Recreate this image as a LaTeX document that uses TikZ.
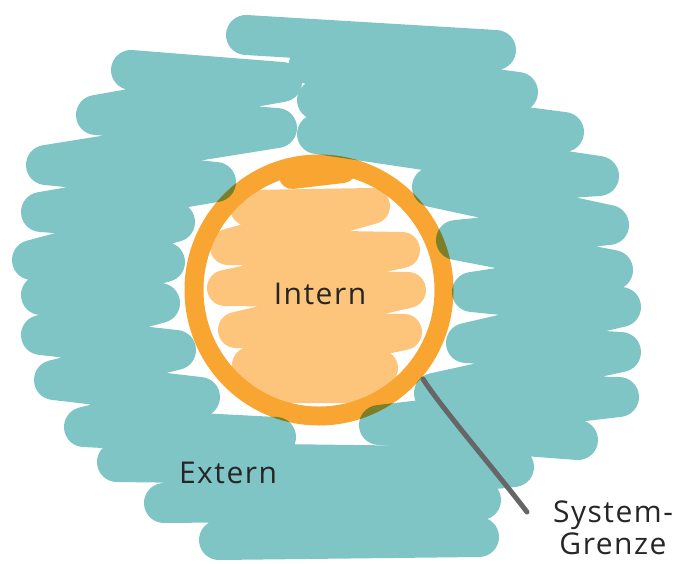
\documentclass[tikz,border=0pt]{standalone}
\usepackage{fontspec}
\setmainfont{Open Sans}
\usepackage{tikz}
\usetikzlibrary{positioning}
\usepackage{xcolor}
\definecolor{externcol}{HTML}{80C5C6}
\definecolor{ringcol}{HTML}{F8A532}
\definecolor{interncol}{HTML}{FDC47B}
\definecolor{grenzcol}{HTML}{666666}
\newcommand{\handfont}{\fontsize{30}{32}\selectfont\addfontfeature{LetterSpace=5}}

\begin{document}
\begin{tikzpicture}[
    x=1pt, y=-1pt,
    every node/.style={font=\handfont, text=black!85, inner sep=0pt},
    % Scribble styles
    externstroke/.style={
      draw=externcol, line width=40pt,
      line cap=round, line join=round
    },
    internstroke/.style={
      draw=interncol, line width=36pt,
      line cap=round, line join=round
    },
    ringstroke/.style={draw=ringcol, line width=19pt, line cap=round},
    % Line style
    grenzline/.style={draw=grenzcol, line width=5pt, line cap=round}
  ]
  \useasboundingbox (0,0) rectangle (683,563);

  % ============ Extern (teal scribble) ============
  \draw[externstroke] (131,70) -- (282,82) -- (96,115) -- (277,128)
    -- (46,165) -- (216,182) -- (41,212) -- (175,222) -- (32,260)
    -- (165,262) -- (41,295) -- (160,303) -- (41,335) -- (176,350)
    -- (54,380) -- (200,397) -- (84,427) -- (276,437) -- (117,462)
    -- (514,467) -- (164,503) -- (481,500) -- (219,540) -- (479,537);
  \draw[externstroke] (246,35) -- (496,50) -- (309,64) -- (518,92)
    -- (317,100) -- (564,132) -- (317,134) -- (599,176) -- (432,187)
    -- (609,225) -- (456,240) -- (613,270) -- (472,292) -- (621,307)
    -- (466,343) -- (621,352) -- (434,393) -- (619,397) -- (379,425)
    -- (578,440);

  % ============ Intern (orange fill + ring) ============
  \begin{scope}[transparency group, blend mode=multiply]
    \draw[internstroke] (248,208) -- (372,206) -- (228,247) -- (402,250)
      -- (225,288) -- (408,290) -- (236,330) -- (404,332) -- (250,365)
      -- (380,368) -- (262,385) -- (375,385);
    \draw[ringstroke, line width=26pt] (292,176) -- (343,170);
    \draw[ringstroke] (319,290) ellipse [x radius=125, y radius=126];
  \end{scope}

  % ============ Labels ============
  \node (intern) at (320,294) {Intern};
  \node (extern) at (228,473) {Extern};
  \node[align=center] (grenze) at (613,528) {System-\\Grenze};

  % ============ System boundary pointer ============
  \coordinate (grenzA) at (423,379);
  \coordinate (grenzB) at (527,512);
  \draw[grenzline] (grenzA) .. controls (440,406) and (495,470) .. (grenzB);

\end{tikzpicture}
\end{document}
